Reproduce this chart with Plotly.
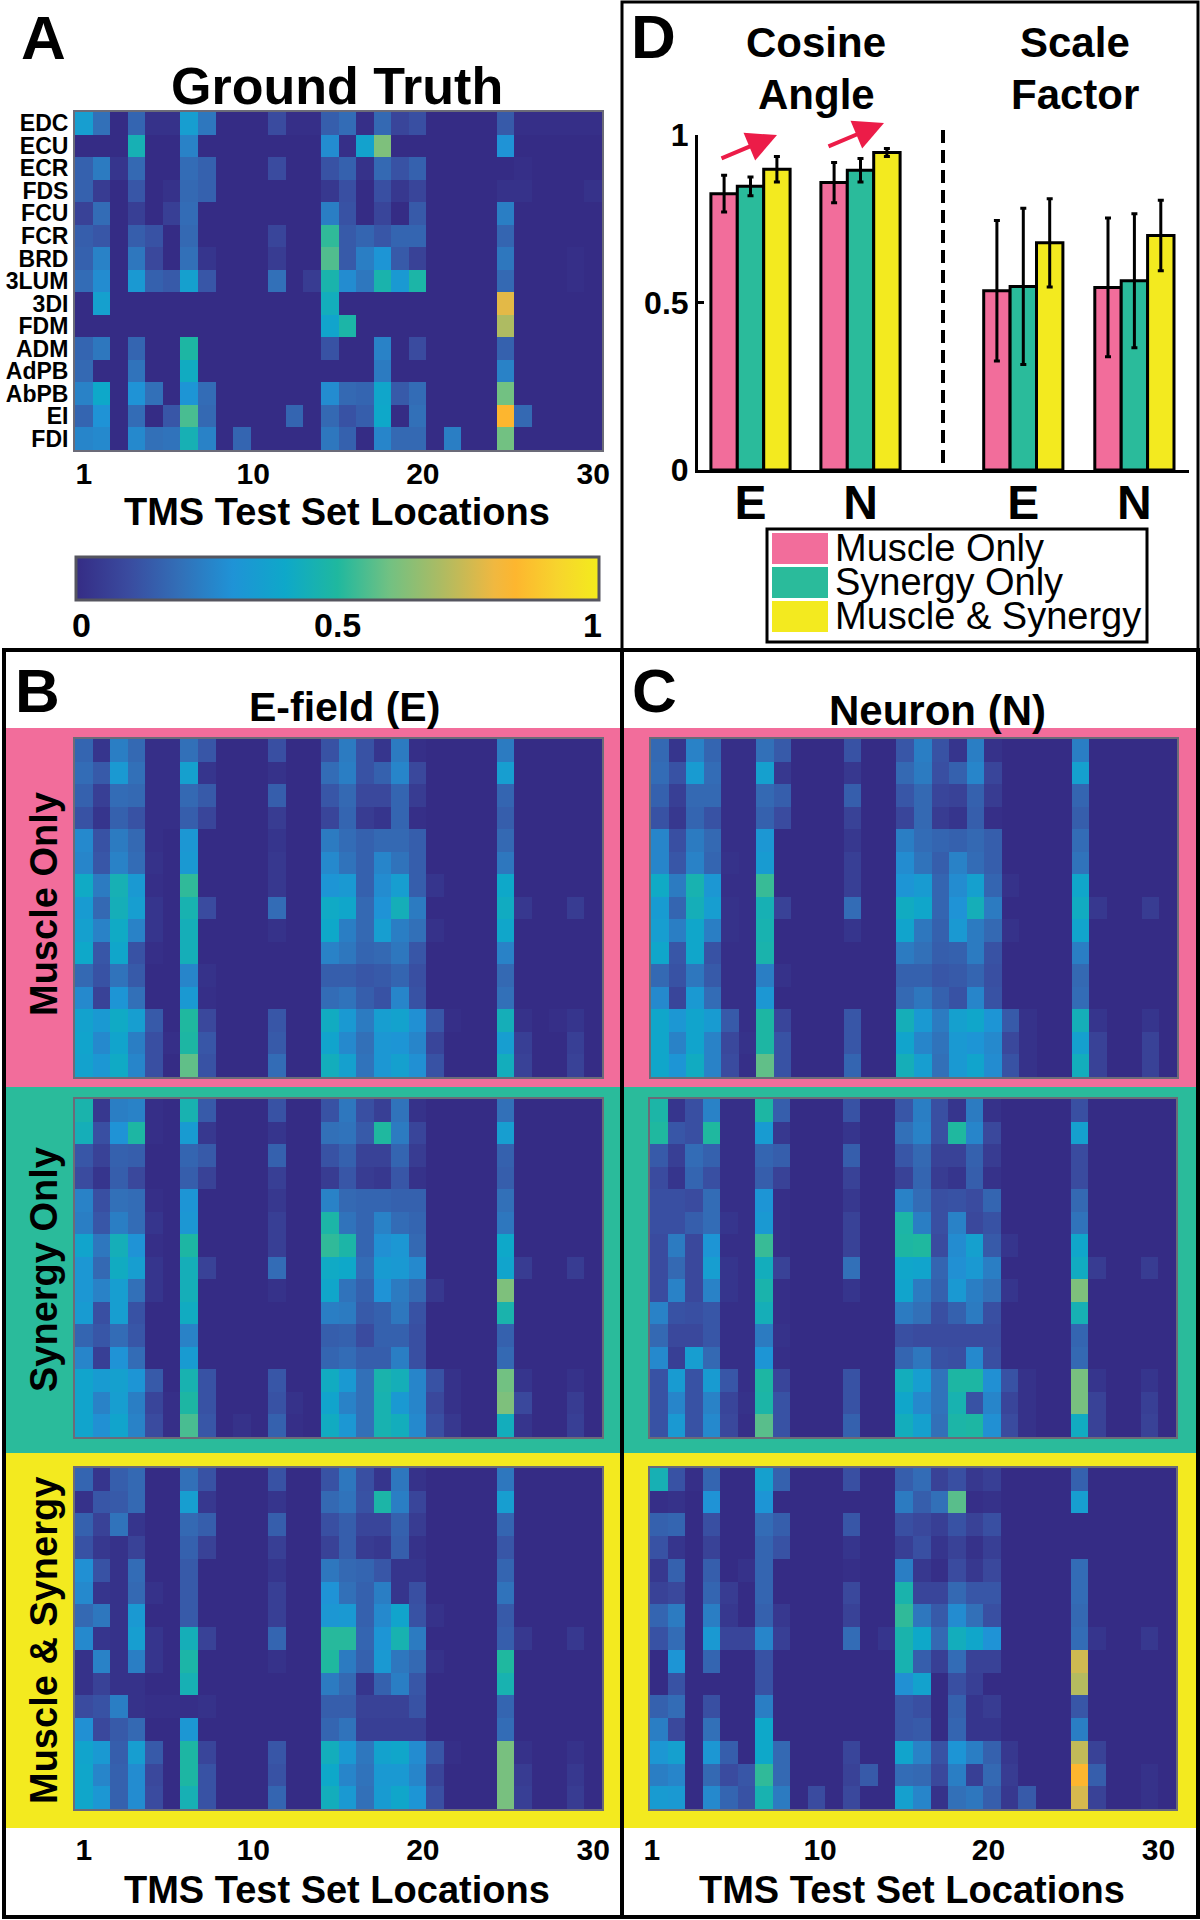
import plotly.graph_objects as go

W, H = 1200, 1920
muscles = ["EDC","ECU","ECR","FDS","FCU","FCR","BRD","3LUM","3DI","FDM","ADM","AdPB","AbPB","EI","FDI"]
locations = list(range(1, 31))

ground_truth = [
[35,20,0,17,2,2,35,22, 0,0,0, 10,1,1, 15,19,1,18,8,11, 0,0,0,0, 14,1, 1,1,1,1],
[0,0,0,45,0,0,25,0, 0,0,0, 0,0,0, 28,1,37,62,0,0, 0,0,0,0, 30,0, 0,0,0,0],
[16,23,3,18,0,0,19,16, 0,0,0, 10,0,0, 12,16,2,18,12,16, 0,0,0,0, 0,1, 0,0,0,0],
[16,5,0,13,0,2,18,16, 0,0,0, 0,0,0, 4,11,0,11,4,8, 0,0,0,0, 2,2, 0,0,0,2],
[7,19,0,6,0,6,19,0, 0,0,0, 0,0,0, 24,12,0,8,0,14, 0,0,0,0, 24,0, 0,0,0,0],
[15,13,0,15,12,0,18,0, 0,0,0, 8,0,0, 52,14,17,13,17,17, 0,0,0,0, 17,0, 0,0,0,0],
[16,25,0,22,9,0,20,3, 0,0,0, 5,0,0, 56,14,24,31,14,7, 0,0,0,0, 22,0, 0,0,1,0],
[19,28,0,33,16,14,36,13, 0,0,0, 20,0,5, 47,28,22,47,33,48, 0,0,0,0, 18,0, 0,0,1,0],
[0,36,0,0,0,0,0,0, 0,0,0, 0,0,0, 43,0,0,0,0,0, 0,0,0,0, 78,0, 0,0,0,0],
[0,0,0,0,0,0,0,0, 0,0,0, 0,0,0, 38,48,0,0,0,0, 0,0,0,0, 70,0, 0,0,0,0],
[17,22,0,17,0,0,49,0, 0,0,0, 0,0,0, 12,0,0,25,0,10, 0,0,0,0, 16,0, 0,0,0,0],
[18,0,0,21,0,0,42,0, 0,0,0, 0,0,0, 0,0,0,23,0,0, 0,0,0,0, 25,0, 0,0,0,0],
[25,40,0,30,20,0,31,19, 0,0,0, 0,0,0, 28,18,17,39,14,19, 0,0,0,0, 60,0, 0,0,0,0],
[17,30,0,19,0,13,55,18, 0,0,0, 0,17,0, 18,12,15,40,0,20, 0,0,0,0, 84,18, 0,0,0,0],
[26,27,0,27,20,21,45,25, 0,17,0, 0,0,0, 22,16,0,26,18,18, 0,24,0,0, 60,0, 0,0,0,0],
]

efield_muscle = [
[17,3,24,18,1,1,20,13, 0,0,0, 11,0,0, 12,23,12,3,23,1, 0,0,0,0, 23,0, 0,0,0,0],
[19,14,33,20,1,1,36,3, 0,0,0, 2,0,0, 19,24,12,16,26,9, 0,0,0,0, 35,0, 0,0,0,0],
[16,6,19,18,1,1,18,14, 0,0,0, 15,0,0, 13,18,9,9,17,5, 0,0,0,0, 17,0, 0,0,0,0],
[12,3,16,12,1,1,15,8, 0,0,0, 5,0,0, 8,17,5,3,17,1, 0,0,0,0, 15,0, 0,0,0,0],
[27,12,23,18,1,0,32,0, 0,0,0, 3,0,0, 23,19,16,18,18,15, 0,0,0,0, 18,0, 0,0,0,0],
[26,13,25,19,2,0,33,0, 0,0,0, 4,0,0, 27,21,16,26,21,15, 0,0,0,0, 22,0, 0,0,0,0],
[41,23,45,33,1,0,52,0, 0,0,0, 4,0,0, 31,33,16,28,35,15, 3,0,0,0, 40,0, 0,0,0,0],
[34,18,44,35,3,0,46,10, 0,0,0, 19,0,0, 41,39,18,30,44,23, 0,0,0,0, 42,4, 0,0,5,0],
[36,25,41,25,3,0,44,0, 0,0,0, 2,0,0, 40,24,18,35,24,20, 2,0,0,0, 39,0, 0,0,0,0],
[40,13,39,12,1,0,44,0, 0,0,0, 0,0,0, 25,22,17,18,22,13, 0,0,0,0, 25,0, 0,0,0,0],
[18,12,21,14,0,0,26,2, 0,0,0, 0,0,0, 15,15,13,14,17,11, 0,0,0,0, 18,0, 0,0,0,0],
[27,7,31,20,0,0,33,1, 0,0,0, 0,0,0, 19,21,15,12,26,12, 0,0,0,0, 20,0, 0,0,0,0],
[37,33,41,35,14,0,50,9, 0,0,0, 13,0,0, 42,33,23,35,37,29, 13,1,0,0, 44,2, 0,1,3,0],
[38,27,38,24,11,1,49,13, 0,0,0, 14,0,0, 38,27,20,32,31,26, 8,0,0,0, 35,6, 0,0,6,0],
[37,32,41,26,11,0,58,12, 0,0,0, 19,0,0, 43,36,21,32,36,29, 12,0,0,0, 43,7, 0,0,7,0],
]

efield_synergy = [
[47,4,24,25,1,0,46,14, 0,0,0, 12,0,0, 12,22,11,6,21,2, 0,0,0,0, 20,0, 0,0,0,0],
[44,11,30,49,1,0,34,4, 0,0,0, 3,0,0, 20,21,14,50,23,8, 0,0,0,0, 35,0, 0,0,0,0],
[13,7,16,15,0,0,17,14, 0,0,0, 16,0,0, 12,16,7,7,17,5, 0,0,0,0, 16,0, 0,0,0,0],
[10,3,15,9,0,0,15,7, 0,0,0, 6,0,0, 5,13,5,4,13,2, 0,0,0,0, 15,0, 0,0,0,0],
[25,11,20,19,1,0,31,0, 0,0,0, 4,0,0, 25,18,17,17,16,16, 0,0,0,0, 20,0, 0,0,0,0],
[24,13,24,19,3,0,32,0, 0,0,0, 6,0,0, 48,21,17,25,19,17, 0,0,0,0, 22,0, 0,0,0,0],
[38,22,44,30,1,0,49,0, 0,0,0, 6,0,0, 52,48,17,29,32,18, 0,0,0,0, 40,0, 0,0,0,0],
[32,18,42,35,3,0,44,7, 0,0,0, 19,0,0, 41,40,19,34,33,27, 0,0,0,0, 38,5, 0,0,5,0],
[32,25,35,20,3,0,44,0, 0,0,0, 2,0,0, 39,21,16,30,23,18, 4,0,0,0, 62,0, 0,0,0,0],
[34,11,35,12,0,0,42,0, 0,0,0, 0,0,0, 24,23,14,16,22,12, 0,0,0,0, 47,0, 0,0,0,0],
[17,13,19,13,0,0,25,0, 0,0,0, 0,0,0, 15,16,10,16,16,11, 0,0,0,0, 16,0, 0,0,0,0],
[26,6,30,19,0,0,34,0, 0,0,0, 0,0,0, 17,19,15,15,24,11, 0,0,0,0, 18,0, 0,0,0,0],
[38,34,36,31,14,0,46,12, 0,0,0, 13,0,0, 42,33,20,47,44,26, 12,2,0,0, 60,3, 0,0,2,0],
[38,25,35,24,8,1,49,12, 0,0,0, 12,2,0, 38,25,20,46,33,26, 9,2,0,0, 62,9, 0,0,5,0],
[38,29,38,25,10,1,55,13, 0,2,0, 16,1,0, 42,32,20,46,43,27, 11,4,0,0, 43,3, 0,0,6,0],
]

efield_both = [
[17,3,15,18,0,0,20,12, 0,0,0, 12,0,0, 12,22,11,3,22,2, 0,0,0,0, 22,0, 0,0,0,0],
[2,13,14,18,0,0,35,4, 0,0,0, 3,0,0, 18,21,12,48,24,8, 0,0,0,0, 35,0, 0,0,0,0],
[16,7,21,3,0,0,18,15, 0,0,0, 15,0,0, 11,15,8,8,16,5, 0,0,0,0, 17,0, 0,0,0,0],
[12,4,2,7,0,0,16,7, 0,0,0, 6,0,0, 7,15,5,4,15,2, 0,0,0,0, 13,0, 0,0,0,0],
[29,12,2,19,0,0,14,0, 0,0,0, 3,0,0, 22,18,17,13,3,3, 0,0,0,0, 17,0, 0,0,0,0],
[27,3,2,18,2,0,14,0, 0,0,0, 6,0,0, 30,20,16,24,3,11, 0,0,0,0, 21,0, 0,0,0,0],
[18,22,2,33,0,0,14,0, 0,0,0, 6,0,0, 32,33,16,27,38,12, 2,0,0,0, 14,0, 0,0,0,0],
[27,3,2,35,3,0,44,7, 0,0,0, 17,0,0, 51,51,17,31,46,23, 0,0,0,0, 15,4, 0,0,4,0],
[2,25,2,24,3,0,48,0, 0,0,0, 2,0,0, 50,23,16,33,22,18, 2,0,0,0, 50,0, 0,0,0,0],
[2,7,2,2,0,0,45,0, 0,0,0, 0,0,0, 23,18,3,16,24,13, 0,0,0,0, 46,0, 0,0,0,0],
[10,12,24,2,1,1,1,2, 0,0,0, 0,0,0, 15,15,7,7,7,12, 0,0,0,0, 17,0, 0,0,0,0],
[29,9,14,18,0,0,32,0, 0,0,0, 0,0,0, 17,21,6,6,6,6, 0,0,0,0, 19,0, 0,0,0,0],
[38,33,15,35,14,0,49,8, 0,0,0, 13,0,0, 43,33,22,37,39,28, 13,1,0,0, 61,2, 0,0,2,0],
[39,26,16,28,9,0,49,12, 0,0,0, 12,0,0, 40,26,21,33,33,26, 8,0,0,0, 61,5, 0,0,4,0],
[39,32,16,28,10,0,45,12, 0,0,0, 17,0,0, 43,33,20,34,39,31, 11,0,0,0, 61,6, 0,0,5,0],
]

neuron_muscle = [
[18,3,25,17,1,1,20,14, 0,0,0, 12,0,0, 13,24,12,3,24,2, 0,0,0,0, 24,0, 0,0,0,0],
[19,12,34,19,1,1,36,4, 0,0,0, 4,0,0, 18,23,11,16,26,8, 0,0,0,0, 36,0, 0,0,0,0],
[16,6,18,18,1,1,18,15, 0,0,0, 15,0,0, 13,18,8,7,16,5, 0,0,0,0, 17,0, 0,0,0,0],
[12,4,17,12,1,1,16,10, 0,0,0, 7,0,0, 8,18,5,3,15,1, 0,0,0,0, 15,0, 0,0,0,0],
[26,11,23,18,1,1,32,0, 0,0,0, 4,0,0, 24,19,17,16,18,15, 0,0,0,0, 19,0, 0,0,0,0],
[26,13,25,17,2,1,34,0, 0,0,0, 6,0,0, 28,21,15,25,19,15, 0,0,0,0, 21,0, 0,0,0,0],
[41,23,46,32,1,1,53,0, 0,0,0, 6,0,0, 31,34,17,28,36,17, 2,0,0,0, 39,0, 0,0,0,0],
[34,17,44,35,2,1,45,7, 0,0,0, 19,0,0, 42,39,17,30,44,23, 0,0,0,0, 42,4, 0,0,5,0],
[35,24,39,24,2,1,46,0, 0,0,0, 3,0,0, 38,22,16,33,23,18, 2,0,0,0, 38,0, 0,0,0,0],
[39,13,39,12,1,1,47,0, 0,0,0, 0,0,0, 23,20,15,16,23,12, 0,0,0,0, 24,0, 0,0,0,0],
[18,12,22,14,1,1,24,2, 0,0,0, 0,0,0, 16,16,13,14,17,11, 0,0,0,0, 18,0, 0,0,0,0],
[27,8,33,19,1,1,32,0, 0,0,0, 0,0,0, 18,22,16,12,26,12, 0,0,0,0, 19,0, 0,0,0,0],
[39,32,38,34,14,1,49,8, 0,0,0, 13,0,0, 44,33,23,36,39,31, 14,2,0,0, 44,3, 0,0,3,0],
[39,25,38,25,9,2,49,12, 0,0,0, 13,0,0, 38,26,21,33,31,27, 9,2,0,0, 36,7, 0,0,7,0],
[39,31,42,25,10,1,58,12, 0,0,0, 17,0,0, 44,35,20,33,38,28, 12,2,0,0, 43,7, 0,0,7,0],
]

neuron_synergy = [
[48,3,11,25,1,1,49,15, 0,0,0, 12,0,0, 13,24,11,3,23,2, 0,0,0,0, 11,0, 0,0,0,0],
[50,13,11,50,1,1,34,4, 0,0,0, 3,0,0, 20,25,11,50,26,9, 0,0,0,0, 36,0, 0,0,0,0],
[14,6,19,16,1,1,17,15, 0,0,0, 15,0,0, 13,18,7,7,16,5, 0,0,0,0, 10,0, 0,0,0,0],
[10,3,17,11,1,1,15,7, 0,0,0, 7,0,0, 7,17,5,3,15,2, 0,0,0,0, 10,0, 0,0,0,0],
[11,11,10,19,1,1,31,1, 0,0,0, 4,0,0, 25,19,11,12,10,17, 0,0,0,0, 18,0, 0,0,0,0],
[11,11,15,19,3,1,33,1, 0,0,0, 7,0,0, 48,24,11,25,9,12, 0,0,0,0, 21,0, 0,0,0,0],
[10,23,9,31,1,1,53,1, 0,0,0, 7,0,0, 49,50,10,28,36,14, 3,0,0,0, 39,0, 0,0,0,0],
[10,18,9,35,3,1,43,7, 0,0,0, 20,0,0, 39,38,17,29,33,24, 0,0,0,0, 42,5, 0,0,5,0],
[10,25,9,25,3,1,47,1, 0,0,0, 3,0,0, 38,23,16,33,24,20, 3,0,0,0, 62,0, 0,0,0,0],
[25,12,11,13,1,1,44,1, 0,0,0, 0,0,0, 23,20,11,16,23,11, 0,0,0,0, 45,0, 0,0,0,0],
[18,9,9,13,1,1,23,2, 0,0,0, 0,0,0, 11,10,10,10,10,10, 0,0,0,0, 17,0, 0,0,0,0],
[27,6,35,18,1,1,31,1, 0,0,0, 0,0,0, 17,22,12,11,27,11, 0,0,0,0, 18,0, 0,0,0,0],
[12,34,12,34,13,1,49,8, 0,0,0, 12,0,0, 43,35,21,49,49,29, 12,2,0,0, 61,3, 0,0,3,0],
[12,26,12,25,8,2,48,12, 0,0,0, 12,0,0, 39,27,21,46,12,26, 8,2,0,0, 61,7, 0,0,6,0],
[12,33,12,27,9,1,57,12, 0,0,0, 16,0,0, 43,36,20,48,49,29, 10,2,0,0, 42,7, 0,0,7,0],
]

neuron_both = [
[45,12,1,17,0,0,36,16, 0,0,0, 11,0,0, 15,19,7,11,4,6, 0,0,0,0, 16,0, 0,0,0,0],
[1,2,0,30,0,0,31,0, 0,0,0, 0,0,0, 23,15,20,57,1,2, 0,0,0,0, 35,0, 0,0,0,0],
[16,17,0,11,0,0,19,15, 0,0,0, 13,0,0, 11,9,6,12,7,11, 0,0,0,0, 0,0, 0,0,0,0],
[12,3,0,7,0,0,17,12, 0,0,0, 3,0,0, 6,11,3,7,2,6, 0,0,0,0, 0,0, 0,0,0,0],
[4,16,0,15,0,2,17,0, 0,0,0, 1,0,0, 24,4,1,10,4,9, 0,0,0,0, 19,0, 0,0,0,0],
[7,9,0,17,5,0,17,0, 0,0,0, 9,0,0, 47,8,8,18,13,13, 0,0,0,0, 19,0, 0,0,0,0],
[17,23,0,24,4,0,16,4, 0,0,0, 7,0,0, 52,22,14,28,20,11, 0,0,0,0, 18,0, 0,0,0,0],
[12,19,0,33,8,8,26,6, 0,0,0, 19,0,3, 47,40,18,43,39,30, 0,0,0,0, 19,3, 0,0,4,0],
[0,31,0,17,0,0,12,0, 0,0,0, 0,0,0, 46,15,6,19,7,7, 0,0,0,0, 75,0, 0,0,0,0],
[0,12,0,0,0,0,12,0, 0,0,0, 0,0,0, 29,37,0,11,6,0, 0,0,0,0, 71,0, 0,0,0,0],
[16,19,0,11,0,0,24,0, 0,0,0, 0,0,0, 13,11,0,16,3,5, 0,0,0,0, 13,0, 0,0,0,0],
[24,9,0,20,0,0,40,0, 0,0,0, 0,0,0, 13,14,0,17,3,3, 0,0,0,0, 24,0, 0,0,0,0],
[32,36,0,32,15,0,40,18, 0,0,0, 8,0,0, 38,25,12,31,24,16, 4,0,0,0, 73,7, 0,0,0,0],
[24,26,0,18,10,13,52,18, 0,0,0, 7,14,0, 19,18,9,24,6,18, 5,0,0,0, 84,15, 0,0,2,0],
[34,33,0,27,17,12,46,23, 0,10,0, 9,0,0, 36,26,2,20,22,15, 4,14,0,0, 76,7, 0,0,2,0],
]

colorbar_labels = ["0", "0.5", "1"]
location_ticks = ["1", "10", "20", "30"]

# bar chart values: one entry per group (Cosine E, Cosine N, Scale E, Scale N)
bar_labels = ["E", "N", "E", "N"]
bar_positions = [1, 2, 3.48, 4.49]
muscle_only = [0.825, 0.858, 0.535, 0.545]
synergy_only = [0.847, 0.895, 0.548, 0.565]
muscle_synergy = [0.898, 0.948, 0.678, 0.700]
muscle_only_err = [0.055, 0.060, 0.210, 0.207]
synergy_only_err = [0.028, 0.035, 0.233, 0.200]
muscle_synergy_err = [0.038, 0.012, 0.132, 0.105]

PINK, GREEN, YELLOW = "#f26d9b", "#2abb9b", "#f3ea1f"
RED = "#ec1c48"
FONT = "Liberation Sans"
COLORS = [
    [0.00, "#352c85"], [0.10, "#3a4b9f"], [0.20, "#3270b8"], [0.30, "#1f93d6"],
    [0.40, "#0ea8c9"], [0.50, "#1fb89f"], [0.60, "#72c182"], [0.70, "#aebb62"],
    [0.80, "#f0b840"], [0.84, "#fdb62f"], [0.92, "#f7d42d"], [1.00, "#f3ec1c"],
]

def fx(p): return p / W
def fy(p): return 1 - p / H

fig = go.Figure()
shapes, annos = [], []

def rect(x0, y0, x1, y1, fill=None, line=None, lw=0, layer="below"):
    shapes.append(dict(type="rect", xref="paper", yref="paper", x0=fx(x0), x1=fx(x1), y0=fy(y0), y1=fy(y1),
                       fillcolor=fill or "rgba(0,0,0,0)", layer=layer,
                       line=dict(color=line or "rgba(0,0,0,0)", width=lw)))

def text(s, x, y, size, bold=True, angle=0, xanchor="center", color="black"):
    annos.append(dict(text=s, x=fx(x), y=fy(y), xref="paper", yref="paper", showarrow=False,
                      xanchor=xanchor, yanchor="middle", textangle=angle,
                      font=dict(family=FONT, size=size, color=color, weight="bold" if bold else "normal")))

# colour bands
rect(5, 728, 1197, 1087, fill=PINK)
rect(5, 1087, 1197, 1453, fill=GREEN)
rect(5, 1453, 1197, 1828, fill=YELLOW)

# frames
rect(4, 650, 1198, 1917, line="black", lw=4, layer="above")
rect(622, 2, 1198, 650, line="black", lw=3, layer="above")
shapes.append(dict(type="line", xref="paper", yref="paper", x0=fx(622), x1=fx(622), y0=fy(650), y1=fy(1917),
                   line=dict(color="black", width=4), layer="above"))

# heatmap panels: matrix, x0, x1, y0, y1, tick positions, tick length, tick standoff, row labels
panels = [
    (ground_truth, 75, 602, 112, 450, [1, 10.65, 20.3, 30], 0, -4, True),
    (efield_muscle, 75, 602, 739, 1077, None, 0, 0, False),
    (efield_synergy, 75, 602, 1099, 1437, None, 0, 0, False),
    (efield_both, 75, 602, 1468, 1809, [1, 10.65, 20.3, 30], 13, 0, False),
    (neuron_muscle, 651, 1177, 739, 1077, None, 0, 0, False),
    (neuron_synergy, 650, 1176, 1099, 1437, None, 0, 0, False),
    (neuron_both, 650, 1176, 1468, 1809, [0.6, 10.2, 19.8, 29.5], 13, 0, False),
]
layout_axes = {}
for i, (z, x0, x1, y0, y1, ticks, tl, ts, rows) in enumerate(panels):
    n = "" if i == 0 else str(i + 1)
    tr = dict(z=[[v / 100 for v in r] for r in z], x=locations, y=muscles,
              xaxis="x" + n, yaxis="y" + n, zmin=0, zmax=1, colorscale=COLORS, showscale=False,
              hoverongaps=False)
    if i == 0:
        tr.update(showscale=True, colorbar=dict(
            orientation="h", x=fx(337.5), xanchor="center", y=fy(557), yanchor="top",
            len=523 / W, lenmode="fraction", thickness=43, thicknessmode="pixels",
            xpad=0, ypad=0, outlinecolor="#55555f", outlinewidth=3,
            showticklabels=False, ticks=""))
    fig.add_trace(go.Heatmap(**tr))
    layout_axes["xaxis" + n] = dict(
        domain=[fx(x0), fx(x1)], range=[0.5, 30.5], anchor="y" + n, showgrid=False, zeroline=False,
        showline=True, mirror=True, linecolor="#6b6b78", linewidth=2,
        tickmode="array", tickvals=ticks or [], ticktext=location_ticks if ticks else [],
        ticks="outside" if ticks else "", ticklen=tl, tickwidth=0, tickcolor="rgba(0,0,0,0)",
        ticklabelstandoff=ts,
        tickfont=dict(family=FONT, size=30, color="black", weight="bold"))
    layout_axes["yaxis" + n] = dict(
        domain=[fy(y1), fy(y0)], anchor="x" + n, autorange="reversed", type="category", showgrid=False, zeroline=False,
        showline=True, mirror=True, linecolor="#6b6b78", linewidth=2,
        showticklabels=rows, ticks="", ticklabelstandoff=0, tickmode="array", tickvals=muscles, ticktext=muscles,
        tickfont=dict(family=FONT, size=23, color="black", weight="bold"))

# bar chart
bx0, bx1, by0, by1 = 698, 1189, 135, 470
for name, vals, errs, col in [("Muscle Only", muscle_only, muscle_only_err, PINK),
                              ("Synergy Only", synergy_only, synergy_only_err, GREEN),
                              ("Muscle & Synergy", muscle_synergy, muscle_synergy_err, YELLOW)]:
    fig.add_trace(go.Bar(name=name, x=bar_positions, y=vals, xaxis="x8", yaxis="y8", showlegend=False,
                         marker=dict(color=col, line=dict(color="black", width=3)),
                         error_y=dict(type="data", array=errs, visible=True, color="black", thickness=3, width=3)))
start = 1 - (750.5 - bx0) / 110
layout_axes["xaxis8"] = dict(domain=[fx(bx0), fx(bx1)], range=[start, start + (bx1 - bx0) / 110], anchor="y8",
                             showgrid=False, zeroline=False, showline=True, linecolor="black", linewidth=3,
                             tickmode="array", tickvals=bar_positions, ticktext=bar_labels, ticks="",
                             ticklabelstandoff=-12,
                             tickfont=dict(family=FONT, size=48, color="black", weight="bold"))
layout_axes["yaxis8"] = dict(domain=[fy(by1), fy(by0)], range=[0, 1], anchor="x8", showgrid=False, zeroline=False,
                             showline=True, linecolor="black", linewidth=3,
                             tickmode="array", tickvals=[0, 0.5, 1], ticktext=["0", "0.5", "1"],
                             ticks="inside", ticklen=6, tickwidth=3, tickcolor="black",
                             tickfont=dict(family=FONT, size=32, color="black", weight="bold"))
shapes.append(dict(type="line", xref="paper", yref="paper", x0=fx(943), x1=fx(943), y0=fy(130), y1=fy(470),
                   line=dict(color="black", width=4, dash="13px,7px"), layer="above"))

def arrow(x0, y0, x1, y1):
    annos.append(dict(x=fx(x1), y=fy(y1), ax=x0 - x1, ay=y0 - y1, xref="paper", yref="paper",
                      text="", showarrow=True, arrowhead=2, arrowsize=1.5, arrowwidth=4, arrowcolor=RED, standoff=0))
arrow(720, 159, 777, 135)
arrow(827, 147, 884, 123)

# legend
rect(767, 529, 1147, 642, fill="white", line="black", lw=3, layer="above")
for s, col, top in [("Muscle Only", PINK, 533), ("Synergy Only", GREEN, 567), ("Muscle & Synergy", YELLOW, 601)]:
    rect(772, top, 828, top + 31, fill=col, layer="above")
    text(s, 833, top + 15, 38, bold=False, xanchor="left")

# colour bar labels
for s, xp in zip(colorbar_labels, [81, 337, 592]):
    text(s, xp, 625, 34)

# texts
text("A", 43, 37, 62)
text("Ground Truth", 337, 86, 52)
text("TMS Test Set Locations", 337, 512, 38)
text("B", 37, 690, 62)
text("E-field (E)", 344, 707, 41)
text("C", 655, 690, 62)
text("Neuron (N)", 937, 710, 42)
text("D", 653, 36, 62)
text("Cosine", 816, 43, 42)
text("Angle", 816, 95, 42)
text("Scale", 1075, 43, 42)
text("Factor", 1075, 95, 42)
text("Muscle Only", 44, 904, 38, angle=-90)
text("Synergy Only", 44, 1270, 38, angle=-90)
text("Muscle & Synergy", 44, 1641, 38, angle=-90)
text("TMS Test Set Locations", 337, 1890, 38)
text("TMS Test Set Locations", 912, 1890, 38)

fig.update_layout(width=W, height=H, margin=dict(l=0, r=0, t=0, b=0, autoexpand=False),
                  paper_bgcolor="white", plot_bgcolor="rgba(0,0,0,0)", barmode="group", bargap=0.28, bargroupgap=0,
                  shapes=shapes, annotations=annos, showlegend=False, font=dict(family=FONT), **layout_axes)
fig.write_html("out.html", config={"displayModeBar": False},
               post_script="document.body.style.margin='0';document.body.style.overflow='hidden';")
